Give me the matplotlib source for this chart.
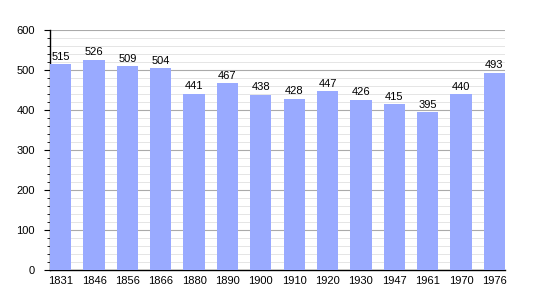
import matplotlib
matplotlib.use("Agg")
import matplotlib.pyplot as plt
from matplotlib.ticker import MultipleLocator

years = ["1831", "1846", "1856", "1866", "1880", "1890", "1900", "1910", "1920", "1930", "1947", "1961", "1970", "1976"]
population = [515, 526, 509, 504, 441, 467, 438, 428, 447, 426, 415, 395, 440, 493]

plt.rcParams['font.family'] = ['Liberation Sans', 'DejaVu Sans']
fig = plt.figure(figsize=(5.35, 3.0), dpi=100)
ax = fig.add_axes([50/535, 30/300, 455/535, 240/300])

w = 0.64
x = list(range(len(years)))
ax.bar(x, population, width=w, color="#99aaff", zorder=3)
for xi, v in zip(x, population):
    ax.text(xi, v + 6, str(v), ha="center", va="bottom", fontsize=8, zorder=4)

ax.set_xlim(-w/2, len(years) - 1 + w/2)
ax.set_ylim(0, 600)
ax.set_xticks(x)
ax.set_xticklabels(years, fontsize=8)
ax.yaxis.set_major_locator(MultipleLocator(100))
ax.yaxis.set_minor_locator(MultipleLocator(20))
ax.tick_params(axis="y", labelsize=8, length=4, width=0.8, pad=7)
ax.tick_params(axis="y", which="minor", length=2, width=0.6)
ax.tick_params(axis="x", length=0, pad=4)
ax.grid(axis="y", which="major", color="#aaaaaa", linewidth=0.8, zorder=0)
ax.grid(axis="y", which="minor", color="#e0e0e0", linewidth=0.6, zorder=0)
for s in ["top", "right"]:
    ax.spines[s].set_visible(False)
ax.spines["left"].set_linewidth(1.0)
ax.spines["bottom"].set_linewidth(1.0)

fig.savefig("out.png", dpi=100)
